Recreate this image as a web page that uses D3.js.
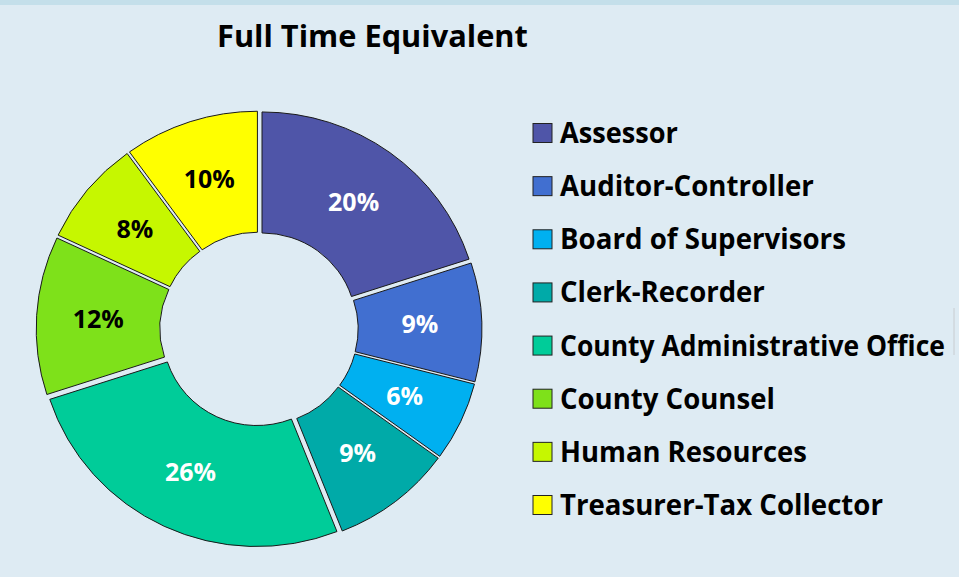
<!DOCTYPE html>
<html>
<head>
<meta charset="utf-8">
<script src="https://cdn.jsdelivr.net/npm/d3@7"></script>
<style>
  html, body { margin: 0; padding: 0; background: #deebf3; }
  svg { display: block; font-family: "Open Sans", "Noto Sans", sans-serif; }
</style>
</head>
<body>
<div id="chart"></div>
<script>

// data
var departments = ["Assessor", "Auditor-Controller", "Board of Supervisors", "Clerk-Recorder",
                   "County Administrative Office", "County Counsel", "Human Resources", "Treasurer-Tax Collector"];
var fteShare = [20, 9, 6, 9, 26, 12, 8, 10];
var chartTitle = "Full Time Equivalent";

// styles
var colors = ["#4f55a8", "#416fd0", "#00b0f0", "#00aaa8", "#00cc99", "#7ee11a", "#c6f700", "#ffff00"];
var labelColors = ["#fff", "#fff", "#fff", "#fff", "#fff", "#000", "#000", "#000"];
// widths the legend names take up in the original (its face is narrower than ours)
var legendTextWidths = [118, 254, 286, 205, 385, 215, 247, 323];

var data = departments.map(function(d, i) { return {key: d, value: fteShare[i]}; });

var width = 959, height = 577;
var cx = 259, cy = 329,
    outerR = 213, innerR = 92,
    explode = 5,
    stretchX = 1.022;   // the picture is a bit wider than tall

var svg = d3.select("#chart").append("svg")
    .attr("width", width)
    .attr("height", height);

svg.append("rect")
    .attr("width", width).attr("height", height)
    .attr("fill", "#deebf3");
svg.append("rect")
    .attr("width", width).attr("height", 5)
    .attr("fill", "#c4dfea");

// squeeze a text horizontally to a given width, anchored at its left edge
function squeezeTo(sel, x, y, w) {
  sel.each(function(d) {
    var t = d3.select(this);
    var target = typeof w === "function" ? w(d) : w;
    var k = target / this.getComputedTextLength();
    t.attr("x", 0).attr("y", 0)
     .attr("transform", "translate(" + x + "," + y + ") scale(" + k + ",1)");
  });
}

// title
var title = svg.append("text")
    .attr("font-size", 30)
    .attr("font-weight", 700)
    .attr("fill", "#000")
    .text(chartTitle);
squeezeTo(title, 217, 47, 311);

// donut
var pie = d3.pie()
    .sort(null)
    .value(function(d) { return d.value; });

var arc = d3.arc()
    .innerRadius(innerR)
    .outerRadius(outerR);

var color = d3.scaleOrdinal().domain(departments).range(colors);
var labelColor = d3.scaleOrdinal().domain(departments).range(labelColors);
var textWidth = d3.scaleOrdinal().domain(departments).range(legendTextWidths);

var arcs = pie(data);

function offset(d) {
  var mid = (d.startAngle + d.endAngle) / 2;
  return [Math.sin(mid) * explode, -Math.cos(mid) * explode];
}

var g = svg.append("g")
    .attr("transform", "translate(" + cx + "," + cy + ") scale(" + stretchX + ",1)");

g.selectAll(".slice")
    .data(arcs)
  .enter().append("path")
    .attr("class", "slice")
    .attr("transform", function(d) { var o = offset(d); return "translate(" + o[0] + "," + o[1] + ")"; })
    .attr("d", arc)
    .attr("fill", function(d) { return color(d.data.key); })
    .attr("stroke", "#1a1a1a")
    .attr("stroke-width", 1)
    .attr("vector-effect", "non-scaling-stroke");

var total = d3.sum(fteShare);

svg.selectAll(".pct")
    .data(arcs)
  .enter().append("text")
    .attr("class", "pct")
    .attr("x", function(d) { var c = arc.centroid(d), o = offset(d); return cx + (c[0] + o[0]) * stretchX; })
    .attr("y", function(d) { var c = arc.centroid(d), o = offset(d); return cy + c[1] + o[1]; })
    .attr("dy", "0.36em")
    .attr("text-anchor", "middle")
    .attr("font-size", 25)
    .attr("font-weight", 700)
    .attr("fill", function(d) { return labelColor(d.data.key); })
    .text(function(d) { return d3.format(".0%")(d.value / total); });

// legend
var legendY = d3.scalePoint()
    .domain(departments)
    .range([133, 505]);

var legend = svg.selectAll(".leg")
    .data(departments)
  .enter().append("g")
    .attr("class", "leg")
    .attr("transform", function(d) { return "translate(533," + legendY(d) + ")"; });

legend.append("rect")
    .attr("x", 0).attr("y", -9.5)
    .attr("width", 19).attr("height", 19)
    .attr("fill", function(d) { return color(d); })
    .attr("stroke", "#222")
    .attr("stroke-width", 1);

var legText = legend.append("text")
    .attr("font-size", 28)
    .attr("font-weight", 700)
    .attr("fill", "#000")
    .text(function(d) { return d; });
squeezeTo(legText, 27, 10, textWidth);

svg.append("line")
    .attr("x1", 954).attr("x2", 954)
    .attr("y1", 308).attr("y2", 355)
    .attr("stroke", "#c8ccd0")
    .attr("stroke-width", 1);

</script>
</body>
</html>
